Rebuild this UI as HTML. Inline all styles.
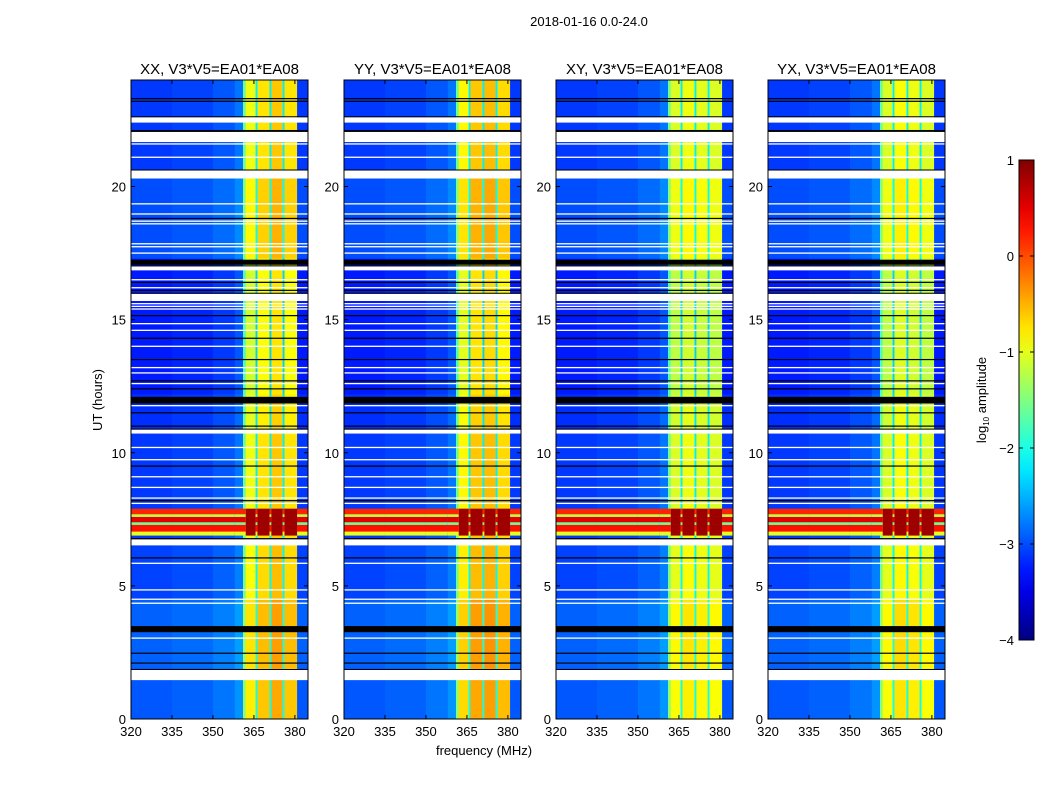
<!DOCTYPE html>
<html><head><meta charset="utf-8">
<style>
body{margin:0;background:#fff;}
svg text{font-family:"Liberation Sans","DejaVu Sans",sans-serif;fill:#000;}
</style></head>
<body>
<svg id="fig" width="1050" height="800" xmlns="http://www.w3.org/2000/svg">
<rect x="0" y="0" width="1050" height="800" fill="#fff"/>
<text x="589" y="26" font-size="13" text-anchor="middle">2018-01-16 0.0-24.0</text>
<text transform="translate(102,400) rotate(-90)" font-size="13" text-anchor="middle">UT (hours)</text>
<text x="484" y="755" font-size="13" text-anchor="middle">frequency (MHz)</text>
<g id="panels"></g>
<g id="cbar"></g>
</svg>
<script>
// ---- data ----
const panelTitles = ["XX, V3*V5=EA01*EA08","YY, V3*V5=EA01*EA08","XY, V3*V5=EA01*EA08","YX, V3*V5=EA01*EA08"];
const xTicks = [320,335,350,365,380];
const yTicks = [0,5,10,15,20];
const cbarTicks = [1,0,-1,-2,-3,-4];
const freqSegStart = [320,335,350,358,361,362,365.6,366.3,370.7,371.4,375.5,376.2,380.8,385];
const freqSegKind  = [-3.1,-3.05,-2.95,-2.8,-1.6,"s0","d","s1","d","s2","d","s3",-3.1];
const subXX = [-0.95,-0.75,-0.6,-0.75];
const subYY = [-0.85,-0.6,-0.55,-0.7];
const subXY = [-1.05,-0.95,-1.0,-1.05];
const subYX = [-1.05,-0.9,-0.95,-1.05];
const subBands = [subXX,subYY,subXY,subYX];
const dividerLevel = -2.2;
const timeSegStart = [0,1.5,1.9,3.3,4.5,6.5,6.9,7.9,10.7,12.2,17.3,20.6,24];
const timeSegOffset = [0.15,0,0.2,0.2,0.05,0,0,0,-0.05,-0.15,0.1,0];
const rfiStart = [6.9,7.05,7.3,7.4,7.6,7.7];
const rfiEnd   = [7.05,7.3,7.4,7.6,7.7,7.9];
const rfiLevel = [-1.0,0.3,-1.6,0.5,-1.2,0.2];
const rfiBandLevel = 0.85;
const whiteStart = [22.4,21.67,20.3,16.85,15.7,10.72,6.52,1.46];
const whiteEnd   = [22.6,22.05,20.6,17.0,15.97,10.87,6.75,1.84];
const blackStart = [17.06,11.85,3.26];
const blackEnd   = [17.25,12.1,3.49];
const thinWhite = [21.6,21.1,19.35,18.97,18.7,18.6,17.85,17.74,17.5,16.5,16.2,15.6,15.5,15.4,14.85,14.6,14.0,13.2,13.0,12.6,11.77,10.2,9.74,9.1,8.7,8.3,8.1,5.85,4.85,4.5,4.35,3.04];
const thinBlack = [23.3,23.2,22.1,20.6,18.8,16.9,16.4,16.1,15.15,14.3,13.5,12.7,12.4,11.5,11.0,9.5,8.2,6.77,6.05,2.47,2.1];

// ---- layout ----
const panelLeft = [131,344,556,768];
const pw = 177, plotTop = 80, plotBottom = 719;
const fMin = 320, fMax = 384.8, tMin = 0, tMax = 24;
const NS = "http://www.w3.org/2000/svg";
function mk(tag, attrs, parent){const e=document.createElementNS(NS,tag);for(const k in attrs)e.setAttribute(k,attrs[k]);parent.appendChild(e);return e;}
function jet(v){
  let x=(v+4)/5; x=Math.max(0,Math.min(1,x));
  const c=t=>Math.max(0,Math.min(1,t));
  const r=c(1.5-Math.abs(4*x-3)), g=c(1.5-Math.abs(4*x-2)), b=c(1.5-Math.abs(4*x-1));
  return `rgb(${Math.round(r*255)},${Math.round(g*255)},${Math.round(b*255)})`;
}
const yS = t => plotBottom - (t - tMin)/(tMax - tMin)*(plotBottom-plotTop);

const panelsG = document.getElementById('panels');
panelTitles.forEach((title,p)=>{
  const L = panelLeft[p];
  const xS = f => L + (f - fMin)/(fMax - fMin)*pw;
  const g = mk('g',{},panelsG);
  
  
  const hm = mk('g',{},g);
  
  
  const levelFor = (i)=>{
    const k=freqSegKind[i];
    if(k==="d") return dividerLevel;
    if(typeof k==="string") return subBands[p][+k.slice(1)];
    return k;
  };
  const inBand = i => typeof freqSegKind[i]==="string";
  for(let i=0;i<freqSegKind.length;i++){
    const x0=xS(freqSegStart[i]), x1=xS(Math.min(freqSegStart[i+1],fMax));
    for(let j=0;j<timeSegOffset.length;j++){
      const y0=yS(timeSegStart[j+1]), y1=yS(timeSegStart[j]);
      const r=mk('rect',{x:x0,y:y0,width:x1-x0+0.3,height:y1-y0+0.3,fill:jet(levelFor(i)+timeSegOffset[j])},hm);
      
      
    }
    for(let j=0;j<rfiStart.length;j++){
      const lv = inBand(i)&&freqSegKind[i]!=="d" ? Math.max(rfiLevel[j],rfiBandLevel) : rfiLevel[j];
      const r=mk('rect',{x:x0,y:yS(rfiEnd[j]),width:x1-x0+0.3,height:yS(rfiStart[j])-yS(rfiEnd[j])+0.3,fill:jet(lv)},hm);
      
      
    }
  }
  thinWhite.forEach(t=>{
    const r=mk('rect',{x:L,y:yS(t)-0.6,width:pw,height:1.3,fill:'#fff'},hm);
    
    
  });
  thinBlack.forEach(t=>{
    const r=mk('rect',{x:L,y:yS(t)-0.6,width:pw,height:1.2,fill:'#000'},hm);
    
    
  });
  whiteStart.forEach((s,k)=>{
    const r=mk('rect',{x:L,y:yS(whiteEnd[k]),width:pw,height:yS(s)-yS(whiteEnd[k]),fill:'#fff'},hm);
    
    
    mk('line',{x1:L,x2:L+pw,y1:yS(whiteEnd[k])-0.5,y2:yS(whiteEnd[k])-0.5,stroke:'#000','stroke-width':1},hm);
  });
  blackStart.forEach((s,k)=>{
    const r=mk('rect',{x:L,y:yS(blackEnd[k]),width:pw,height:yS(s)-yS(blackEnd[k]),fill:'#000'},hm);
    
    
  });
  const fr=mk('rect',{x:L,y:plotTop,width:pw,height:plotBottom-plotTop,fill:'none',stroke:'#000','stroke-width':1},g);
  
  
  const tt=mk('text',{x:L+pw/2,y:plotTop-6,'font-size':15,'text-anchor':'middle'},g);
  tt.textContent=title;
  
  
  xTicks.forEach(v=>{
    const x=xS(v);
    mk('line',{x1:x,x2:x,y1:plotBottom,y2:plotBottom-4,stroke:'#000'},g);
    mk('line',{x1:x,x2:x,y1:plotTop,y2:plotTop+4,stroke:'#000'},g);
    const t=mk('text',{x:x,y:plotBottom+17,'font-size':13,'text-anchor':'middle'},g);
    t.textContent=v;
    
    
  });
  yTicks.forEach(v=>{
    const y=yS(v);
    mk('line',{x1:L,x2:L+4,y1:y,y2:y,stroke:'#000'},g);
    mk('line',{x1:L+pw,x2:L+pw-4,y1:y,y2:y,stroke:'#000'},g);
    const t=mk('text',{x:L-5,y:y+5,'font-size':13,'text-anchor':'end'},g);
    t.textContent=v;
    
    
  });
});

const cb = document.getElementById('cbar');


const cbL=1019, cbW=15, cbT=160, cbB=640;
const defs=mk('defs',{},cb);
const lg=mk('linearGradient',{id:'jetg',x1:0,y1:1,x2:0,y2:0},defs);
for(let i=0;i<=20;i++){mk('stop',{offset:i/20,'stop-color':jet(-4+5*i/20)},lg);}
mk('rect',{x:cbL,y:cbT,width:cbW,height:cbB-cbT,fill:'url(#jetg)',stroke:'#000','stroke-width':1},cb);
const cbS = v => cbB - (v+4)/5*(cbB-cbT);
cbarTicks.forEach(v=>{
  const y=cbS(v);
  mk('line',{x1:cbL,x2:cbL+4,y1:y,y2:y,stroke:'#000'},cb);
  mk('line',{x1:cbL+cbW,x2:cbL+cbW-4,y1:y,y2:y,stroke:'#000'},cb);
  const t=mk('text',{x:cbL-5,y:y+5,'font-size':13,'text-anchor':'end'},cb);
  t.textContent=(v<0?'\u2212'+(-v):v);
  
  
});
const cl=mk('text',{transform:'translate(986,400) rotate(-90)','font-size':13,'text-anchor':'middle'},cb);
cl.innerHTML='log<tspan font-size="8" dy="3">10</tspan><tspan dy="-3"> amplitude</tspan>';


</script>
</body></html>
